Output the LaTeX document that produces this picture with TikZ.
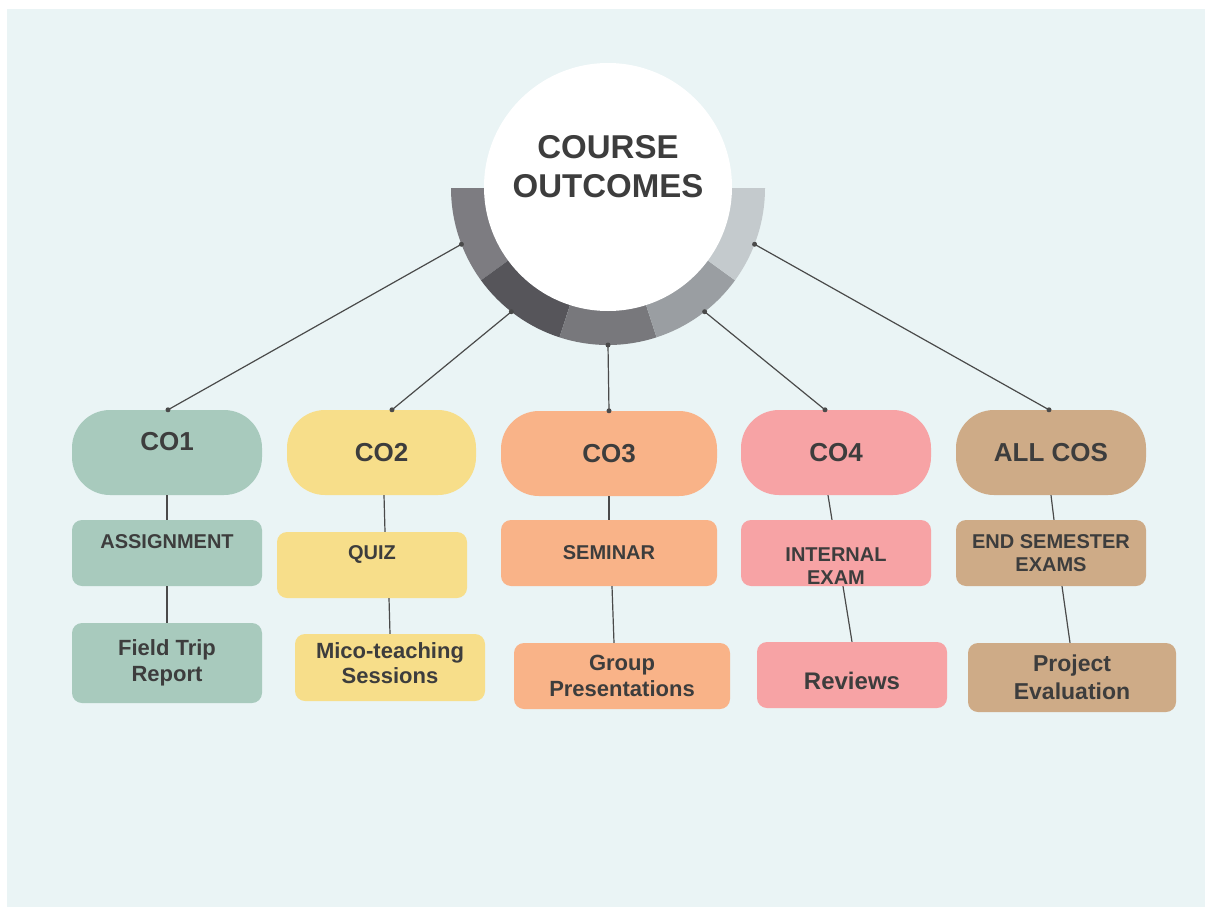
\documentclass[tikz,border=0pt]{standalone}
\usepackage{fontspec}
\setmainfont{Liberation Sans}
\usetikzlibrary{calc}
\definecolor{panel}{HTML}{EAF4F5}
\definecolor{ringA}{HTML}{7D7C81}
\definecolor{ringB}{HTML}{56555A}
\definecolor{ringC}{HTML}{78787C}
\definecolor{ringD}{HTML}{9A9EA2}
\definecolor{ringE}{HTML}{C4CACD}
\definecolor{txt}{HTML}{3D3D3D}
\definecolor{cgreen}{HTML}{A8CABD}
\definecolor{cyellow}{HTML}{F7DE8A}
\definecolor{corange}{HTML}{F9B388}
\definecolor{cpink}{HTML}{F7A3A5}
\definecolor{cbrown}{HTML}{CEAB87}
\definecolor{lnk}{HTML}{4A4A4A}
\begin{document}
\begin{tikzpicture}[x=1pt,y=-1pt,
  cobox/.style={rectangle, rounded corners=38pt, minimum height=85pt, inner sep=0pt, text=txt, font=\bfseries\fontsize{26}{30}\selectfont},
  subbox/.style={rectangle, rounded corners=10pt, minimum height=66pt, inner sep=0pt, align=center, text=txt, font=\bfseries\fontsize{20}{23}\selectfont},
  leafbox/.style={rectangle, rounded corners=10pt, inner sep=0pt, align=center, text=txt, font=\bfseries\fontsize{22}{26}\selectfont},
  lbl/.style={inner sep=0pt, align=center, text=txt},
  link/.style={draw=lnk, line width=1.2pt},
  dot/.style={circle, fill=lnk, inner sep=0pt, minimum size=5pt}
]
\useasboundingbox (0,0) rectangle (1205,907);
\fill[white] (0,0) rectangle (1205,907);
\fill[panel] (7,9) rectangle (1205,907);

% ring
\coordinate (cc) at (608,188);
\foreach \a/\b/\c in {180/144/ringA, 144/108/ringB, 108/72/ringC, 72/36/ringD, 36/0/ringE}
  \fill[\c] (cc) -- ($(cc)+(\a:157)$) arc[start angle=\a, end angle=\b, radius=157] -- cycle;
\node[circle, fill=white, minimum size=248pt, inner sep=0pt] (co) at (608,187) {};
\node[lbl, font=\bfseries\fontsize{33}{39}\selectfont] (title) at (608,167) {COURSE\\OUTCOMES};

\coordinate (p1) at ($(cc)+(159:157)$);
\coordinate (p2) at ($(cc)+(128:157)$);
\coordinate (p3) at ($(cc)+(90:157)$);
\coordinate (p4) at ($(cc)+(52:157)$);
\coordinate (p5) at ($(cc)+(21:157)$);

% CO boxes
\node[cobox, fill=cgreen, minimum width=190pt] (c1) at (167,452.5) {};
\node[lbl, font=\bfseries\fontsize{26}{30}\selectfont] (t1) at (167,442) {CO1};
\node[cobox, fill=cyellow, minimum width=189pt] (c2) at (381.5,452.5) {CO2};
\node[cobox, fill=corange, minimum width=216pt] (c3) at (609,453.5) {CO3};
\node[cobox, fill=cpink, minimum width=190pt] (c4) at (836,452.5) {CO4};
\node[cobox, fill=cbrown, minimum width=190pt] (c5) at (1051,452.5) {ALL COS};

% second row
\node[subbox, fill=cgreen, minimum width=190pt] (a1) at (167,553) {};
\node[lbl, font=\bfseries\fontsize{20}{23}\selectfont] (ta1) at (167,542) {ASSIGNMENT};
\node[subbox, fill=cyellow, minimum width=190pt] (q2) at (372,565) {};
\node[lbl, font=\bfseries\fontsize{20}{23}\selectfont] (tq2) at (372,554) {QUIZ};
\node[subbox, fill=corange, minimum width=216pt] (s3) at (609,553) {SEMINAR};
\node[subbox, fill=cpink, minimum width=190pt] (i4) at (836,553) {};
\node[lbl, font=\bfseries\fontsize{20}{23.5}\selectfont] (ti4) at (836,566) {INTERNAL\\EXAM};
\node[subbox, fill=cbrown, minimum width=190pt] (e5) at (1051,553) {END SEMESTER\\EXAMS};

% third row
\node[leafbox, fill=cgreen, minimum width=190pt, minimum height=80pt] (l1) at (167,663) {Field Trip\\Report};
\node[leafbox, fill=cyellow, minimum width=190pt, minimum height=67pt] (l2) at (390,667.5) {};
\node[lbl, font=\bfseries\fontsize{22}{25}\selectfont] (tl2) at (390,663.5) {Mico-teaching\\Sessions};
\node[leafbox, fill=corange, minimum width=216pt, minimum height=66pt] (l3) at (622,676) {Group\\Presentations};
\node[leafbox, fill=cpink, minimum width=190pt, minimum height=66pt] (l4) at (852,675) {};
\node[lbl, font=\bfseries\fontsize{24}{28}\selectfont] (tl4) at (852,681) {Reviews};
\node[leafbox, fill=cbrown, minimum width=208pt, minimum height=69pt, font=\bfseries\fontsize{23}{28}\selectfont] (l5) at (1072,677.5) {Project\\Evaluation};

% ring connectors
\draw[link] (p1) -- ([xshift=1pt]c1.north);
\draw[link] (p2) -- ([xshift=10.5pt]c2.north);
\draw[link] (p3) -- (c3.north);
\draw[link] (p4) -- ([xshift=-11pt]c4.north);
\draw[link] (p5) -- ([xshift=-2pt]c5.north);
\foreach \p in {p1,p2,p3,p4,p5} \node[dot] at (\p) {};
\node[dot] (d1) at ([xshift=1pt]c1.north) {};
\node[dot] (d2) at ([xshift=10.5pt]c2.north) {};
\node[dot] (d3) at (c3.north) {};
\node[dot] (d4) at ([xshift=-11pt]c4.north) {};
\node[dot] (d5) at ([xshift=-2pt]c5.north) {};

% vertical connectors
\draw[link] (c1.south) -- (a1.north);
\draw[link] (a1.south) -- (l1.north);
\draw[link] ([xshift=2.5pt]c2.south) -- ([xshift=13pt]q2.north);
\draw[link] ([xshift=17pt]q2.south) -- (l2.north);
\draw[link] (c3.south) -- (s3.north);
\draw[link] ([xshift=3pt]s3.south) -- ([xshift=-8pt]l3.north);
\draw[link] ([xshift=-8pt]c4.south) -- ([xshift=-4pt]i4.north);
\draw[link] ([xshift=7pt]i4.south) -- (l4.north);
\draw[link] (c5.south) -- ([xshift=3pt]e5.north);
\draw[link] ([xshift=11pt]e5.south) -- ([xshift=-2pt]l5.north);
\end{tikzpicture}
\end{document}
